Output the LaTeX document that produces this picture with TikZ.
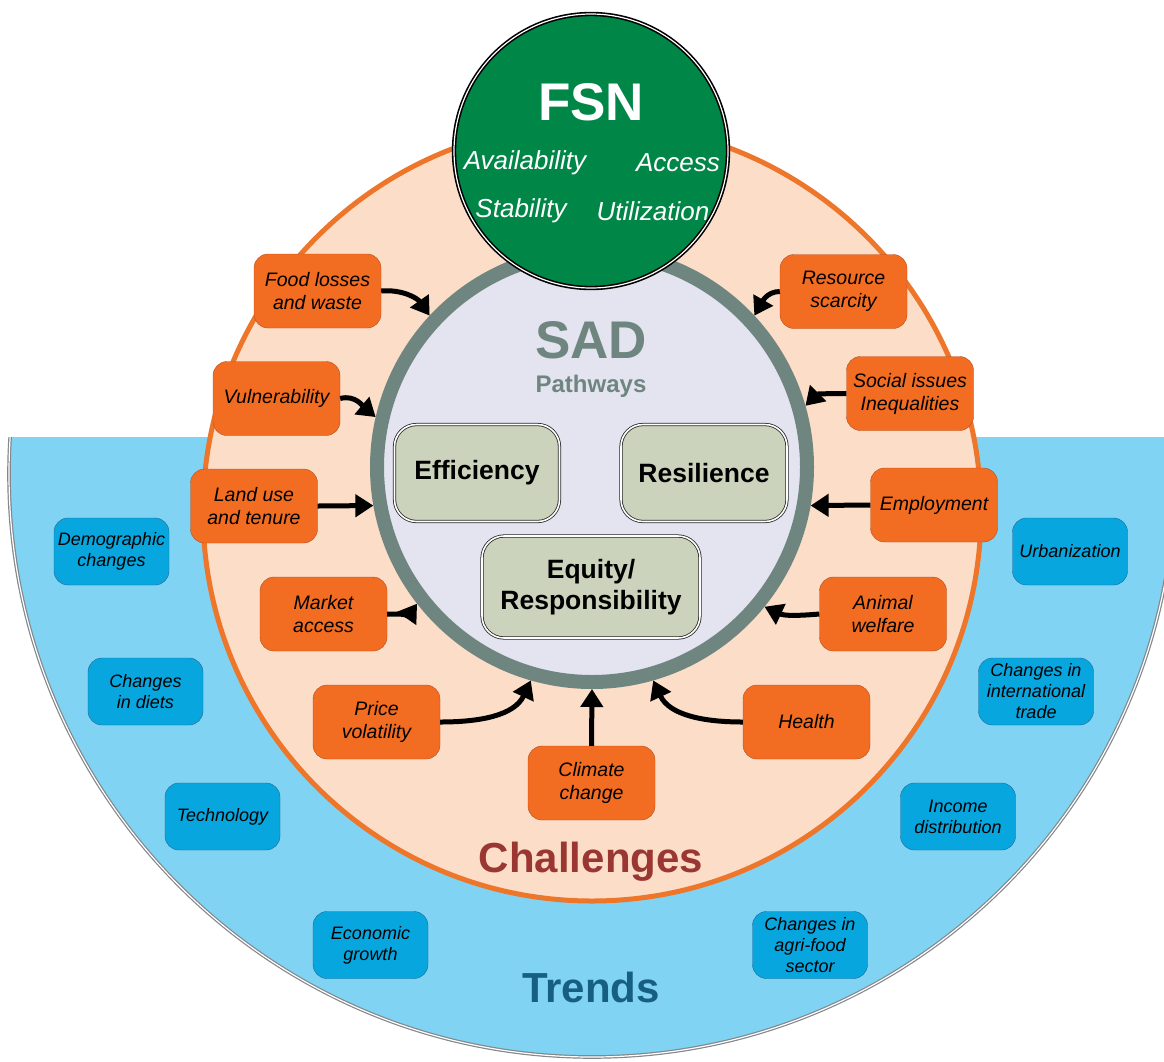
\documentclass[tikz,border=0pt]{standalone}
\usepackage{fontspec}
\setmainfont{Liberation Sans}
\usetikzlibrary{positioning,arrows.meta,shapes}

\definecolor{trendbg}{RGB}{128,211,242}
\definecolor{trendbox}{RGB}{8,166,223}
\definecolor{trendedge}{RGB}{30,105,150}
\definecolor{trendtext}{RGB}{22,95,130}
\definecolor{peach}{RGB}{252,221,199}
\definecolor{challline}{RGB}{237,118,42}
\definecolor{challbox}{RGB}{242,108,33}
\definecolor{challedge}{RGB}{180,80,35}
\definecolor{challtext}{RGB}{155,55,50}
\definecolor{ringgray}{RGB}{111,133,128}
\definecolor{lavender}{RGB}{227,228,239}
\definecolor{pathbox}{RGB}{204,211,188}
\definecolor{fsngreen}{RGB}{0,135,72}
\definecolor{rimgray}{RGB}{130,135,140}

\newcommand{\setfs}[2]{\fontsize{#1}{#2}\selectfont}

\begin{document}
\begin{tikzpicture}[x=1pt,y=-1pt,
  challenge/.style={draw=challedge,fill=challbox,rounded corners=14pt,
    minimum width=127pt,minimum height=74pt,inner sep=1pt,align=center,
    font=\setfs{19.5}{23}\itshape},
  trend/.style={draw=trendedge,fill=trendbox,rounded corners=14pt,
    minimum width=115pt,minimum height=67pt,inner sep=1pt,align=center,
    font=\setfs{18}{21}\itshape},
  pathway/.style={draw=black!85,line width=0.8pt,double=white,double distance=1.6pt,
    fill=pathbox,rounded corners=22pt,align=center,inner sep=1pt,
    font=\setfs{26.5}{31}\bfseries},
  fsnword/.style={text=white,font=\setfs{26}{30}\itshape,inner sep=0pt},
  pull/.style={line width=5pt,-{Triangle[length=18pt,width=22pt]}}
]
\useasboundingbox (0,0) rectangle (1164,1061);

% the trends
\begin{scope}
  \clip (0,437) rectangle (1164,1061);
  \fill[trendbg] (592,474) circle (583);
  \draw[rimgray,line width=1.2pt,double=white,double distance=1.2pt] (592,474) circle (583);
\end{scope}

% the challenges
\draw[challline,line width=5pt,fill=peach] (592,512) circle (389);

% the SAD ring
\node[circle,draw=ringgray,line width=14pt,fill=lavender,
  minimum size=430pt,inner sep=0pt] (sad) at (592,467) {};
\node[text=ringgray,font=\setfs{53}{60}\bfseries] (sadt) at (591,340) {SAD};
\node[text=ringgray,font=\setfs{24}{28}\bfseries] (pathw) at (591,386) {Pathways};

\node[pathway,minimum width=165pt,minimum height=97pt] (eff) at (477,473) {Efficiency};
\node[pathway,minimum width=166pt,minimum height=97pt] (res) at (704,473) {Resilience};
\node[pathway,minimum width=218pt,minimum height=102pt] (equ) at (591,587) {Equity/\\Responsibility};

% FSN
\node[circle,fill=fsngreen,draw=black,line width=1.6pt,double=white,
  double distance=1.2pt,minimum size=274pt] (fsn) at (591,151) {};
\node[text=white,font=\setfs{53}{60}\bfseries] (fsnt) at (591,102) {FSN};
\node[fsnword] (avail) at (525,163) {Availability};
\node[fsnword] (access) at (678,163) {Access};
\node[fsnword] (stab) at (521,211) {Stability};
\node[fsnword] (util) at (653,211) {Utilization};

% the challenge boxes
\node[challenge] (food) at (317.5,291) {Food losses\\and waste};
\node[challenge] (vuln) at (276.5,398.5) {Vulnerability};
\node[challenge] (land) at (254,506) {Land use\\and tenure};
\node[challenge] (market) at (323.5,614) {Market\\access};
\node[challenge] (price) at (376.5,722) {Price\\volatility};
\node[challenge] (climate) at (591.5,783) {Climate\\change};
\node[challenge] (health) at (806.5,722) {Health};
\node[challenge] (animal) at (883,614) {Animal\\welfare};
\node[challenge] (employ) at (934,505) {Employment};
\node[challenge] (social) at (910,393.5) {Social issues\\Inequalities};
\node[challenge] (resource) at (843.5,291.5) {Resource\\scarcity};
\node[text=challtext,font=\setfs{42}{48}\bfseries] (chall) at (591,862) {Challenges};

% the trend boxes
\node[trend] (demog) at (111.5,551.5) {Demographic\\changes};
\node[trend] (diets) at (145.5,691.5) {Changes\\in diets};
\node[trend] (techno) at (222.5,816.5) {Technology};
\node[trend] (econ) at (370.5,945) {Economic\\growth};
\node[trend] (agri) at (810,945) {Changes in\\agri-food\\sector};
\node[trend] (income) at (958,816.5) {Income\\distribution};
\node[trend] (trade) at (1036,691.5) {Changes in\\international\\trade};
\node[trend] (urban) at (1070,551.5) {Urbanization};
\node[text=trendtext,font=\setfs{42}{48}\bfseries] (trends) at (591,987) {Trends};

% the edges
\draw[pull] (food.east) to[out=5,in=125] (sad.137);
\draw[pull] (vuln.east) to[out=15,in=140] (sad.167);
\draw[pull] (land.east) -- (sad.190);
\draw[pull] (market.east) to[out=0,in=-125] (sad.218);
\draw[pull] (price.east) to[out=0,in=-115] (sad.254);
\draw[pull] (climate.north) -- (sad.270);
\draw[pull] (health.west) to[out=180,in=-65] (sad.286);
\draw[pull] (animal.west) to[out=185,in=-25] (sad.321);
\draw[pull] (employ.west) -- (sad.350);
\draw[pull] (social.west) to[out=180,in=45] (sad.16);
\draw[pull] (resource.west) to[out=180,in=60] (sad.43);

\end{tikzpicture}
\end{document}
